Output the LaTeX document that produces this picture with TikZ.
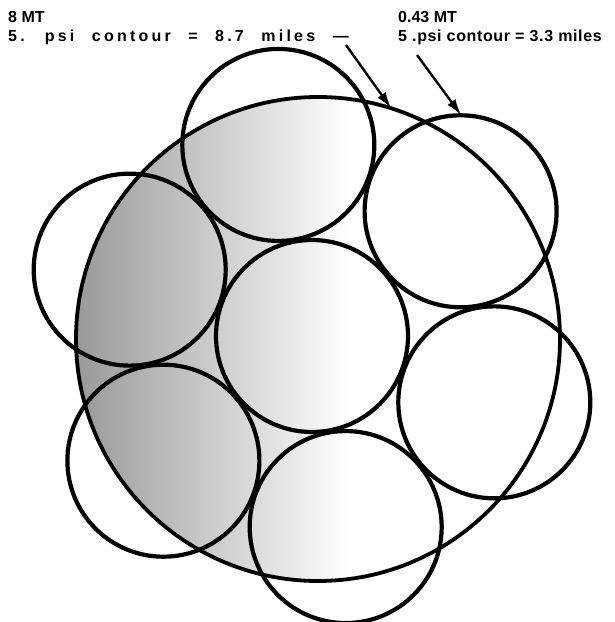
\documentclass[tikz,border=0pt]{standalone}
\usepackage{fontspec}
\setmainfont{Liberation Sans}
\newfontfamily\widefont[LetterSpace=20,WordSpace=2.3]{Liberation Sans}
\usetikzlibrary{calc}
\usetikzlibrary{arrows.meta}

\begin{document}
\begin{tikzpicture}[x=1pt, y=1pt,
    contour/.style={line width=4.2pt},
    blast/.style={line width=3.8pt},
    pointer/.style={line width=2.4pt, -{Latex[length=16pt,width=10pt]}},
    label/.style={anchor=base west, inner sep=0pt, font=\bfseries\fontsize{16}{19}\selectfont}]

    \useasboundingbox (0,0) rectangle (615,622);

    \coordinate (B0) at (318,283);
    \coordinate (C0) at (312,286);

    % shaded area inside the 8 MT contour
    \begin{scope}
    \clip (B0) circle (242pt);
    \shade[left color=black!40, right color=white] (76,30) rectangle (350,540);
    \end{scope}

    \draw[blast] (B0) circle (242pt);
    \draw[contour] (C0) circle (96pt);
    \foreach \a in {40,100,...,340}
        \draw[contour] ($(C0)+(\a:194pt)$) circle (96pt);

    \node[label] (lblBig) at (8,599) {8 MT};
    \node[label] (lblBigSub) at (8,580) {\widefont\bfseries 5. psi contour = 8.7 miles —};
    \node[label] (lblSmall) at (398,599) {0.43 MT};
    \node[label] (lblSmallSub) at (398,580) {\addfontfeature{LetterSpace=4}5 .psi contour = 3.3 miles};

    \coordinate (aBig) at (346,577);
    \coordinate (tBig) at (391,514);
    \coordinate (aSmall) at (417,567);
    \coordinate (tSmall) at (461,507);

    \draw[pointer] (aBig) -- (tBig);
    \draw[pointer] (aSmall) -- (tSmall);

\end{tikzpicture}
\end{document}
